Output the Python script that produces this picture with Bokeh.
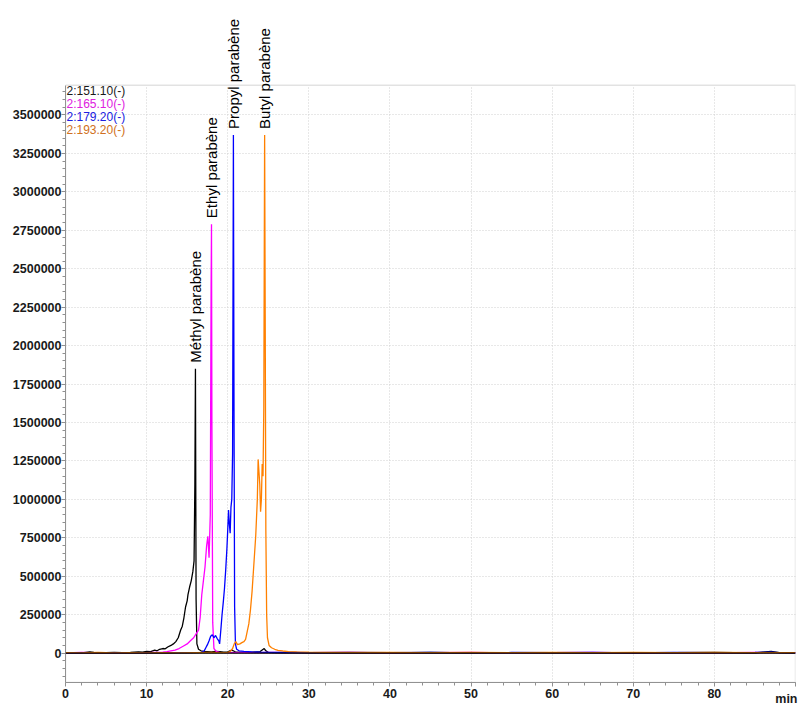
from bokeh.plotting import figure
from bokeh.models import (Range1d, SingleIntervalTicker, BasicTickFormatter, Label, Span,
                          BoxAnnotation)
from bokeh.embed import file_html
from bokeh.resources import INLINE

# ---------------- data (time in min, intensity in counts) ----------------
ion_labels = ["2:151.10(-)", "2:165.10(-)", "2:179.20(-)", "2:193.20(-)"]

t_151 = [0, 1, 2, 3, 3.5, 4, 5, 6, 7, 8, 9, 9.5, 10, 10.5, 11, 11.3, 11.6, 12, 12.3, 12.6,
         13, 13.3, 13.6, 13.9, 14.2, 14.4, 14.6, 14.8, 15.0, 15.1, 15.3, 15.5, 15.7, 15.85,
         15.95, 16.02, 16.1, 16.2, 16.4, 16.7, 17, 17.5, 18, 18.5, 19, 19.5, 20, 20.5, 20.8,
         21, 22, 23, 24, 24.5, 24.7, 25, 26, 28, 30, 35, 40, 45, 50, 55, 60, 65, 70, 75, 80,
         85, 87, 88, 90]
y_151 = [2000, 3000, 1000, 8000, 4000, 2000, 3000, 5000, 3000, 4000, 8000, 6000, 12000, 10000,
         20000, 15000, 25000, 30000, 28000, 40000, 50000, 60000, 75000, 100000, 150000, 175000,
         230000, 300000, 340000, 380000, 430000, 470000, 530000, 600000, 1100000, 1850000,
         350000, 60000, 25000, 15000, 12000, 10000, 8000, 12000, 10000, 6000, 8000, 20000,
         12000, 6000, 5000, 6000, 10000, 30000, 15000, 5000, 3000, 4000, 2000, 3000, 2000,
         4000, 2000, 3000, 2000, 3000, 2000, 3000, 4000, 2000, 12000, 3000, 2000]

t_165 = [0, 2, 4, 6, 8, 10, 11, 12, 12.5, 13, 13.5, 14, 14.5, 15, 15.4, 15.8, 16.1, 16.4,
         16.6, 16.8, 17.0, 17.2, 17.4, 17.55, 17.7, 17.85, 17.95, 18.0, 18.05, 18.15, 18.3,
         18.6, 19, 20, 22, 24, 25, 30, 35, 40, 45, 50, 55, 60, 65, 70, 75, 80, 85, 90]
y_165 = [2000, 4000, 2000, 3000, 2000, 3000, 5000, 6000, 10000, 15000, 20000, 30000, 45000,
         60000, 80000, 100000, 125000, 150000, 230000, 380000, 470000, 560000, 700000, 760000,
         620000, 900000, 2400000, 2790000, 1500000, 200000, 30000, 10000, 5000, 3000, 4000,
         3000, 5000, 3000, 4000, 2000, 3000, 4000, 2000, 3000, 4000, 2000, 3000, 2000, 4000,
         3000]

t_179 = [0, 3, 6, 9, 12, 15, 16, 16.8, 17.1, 17.3, 17.5, 17.7, 17.9, 18.1, 18.3, 18.5, 18.7,
         18.9, 19.0, 19.15, 19.3, 19.45, 19.6, 19.75, 19.9, 20.0, 20.1, 20.2, 20.3, 20.4, 20.5,
         20.6, 20.7, 20.78, 20.85, 20.95, 21.1, 21.4, 22, 23, 24, 25, 27, 30, 35, 40, 45, 50,
         55, 60, 65, 70, 75, 80, 85, 87, 88, 90]
y_179 = [1000, 2000, 1000, 2000, 1000, 2000, 3000, 5000, 15000, 35000, 55000, 80000, 110000,
         120000, 100000, 115000, 95000, 80000, 60000, 150000, 250000, 330000, 420000, 540000,
         680000, 800000, 930000, 840000, 780000, 950000, 1000000, 1300000, 3370000, 1500000,
         300000, 60000, 25000, 15000, 12000, 8000, 6000, 5000, 4000, 3000, 5000, 3000, 4000,
         2000, 4000, 3000, 4000, 2000, 4000, 3000, 4000, 6000, 3000, 2000]

t_193 = [0, 2, 4, 6, 8, 10, 12, 14, 16, 18, 19, 20, 20.3, 20.6, 20.8, 21.0, 21.2, 21.5, 21.8,
         22.0, 22.2, 22.4, 22.6, 22.8, 23.0, 23.15, 23.3, 23.45, 23.55, 23.65, 23.75, 23.85,
         23.95, 24.05, 24.15, 24.25, 24.35, 24.45, 24.55, 24.62, 24.7, 24.8, 24.9, 25.1, 25.4,
         25.8, 26.2, 26.8, 27.5, 28.5, 30, 32, 35, 40, 45, 50, 55, 60, 65, 70, 75, 80, 85, 90]
y_193 = [3000, 2000, 4000, 2000, 3000, 2000, 3000, 2000, 3000, 4000, 3000, 5000, 10000, 30000,
         60000, 75000, 55000, 60000, 70000, 75000, 90000, 140000, 190000, 280000, 400000,
         520000, 640000, 760000, 880000, 1000000, 1260000, 1180000, 1100000, 920000, 1000000,
         1230000, 1150000, 1600000, 3370000, 2200000, 800000, 250000, 100000, 50000, 35000,
         25000, 18000, 14000, 10000, 8000, 6000, 5000, 4000, 5000, 3000, 4000, 3000, 4000,
         3000, 4000, 3000, 4000, 3000, 3000]

peak_names = ["Méthyl parabène", "Ethyl parabène", "Propyl parabène", "Butyl parabène"]
peak_times = [16.02, 18.0, 20.7, 24.55]
peak_heights = [1850000, 2790000, 3370000, 3370000]

x_ticks_step = 10
y_ticks_step = 250000

# axis extents (visible plot box)
X0, X1 = 0, 90
Y0, Y1 = -191000, 3693000

# ---------------- figure ----------------
FONT = "Liberation Sans"
W, H = 798, 704
LEFT, RIGHT, TOP_BOX, BOTTOM = 65, 3, 83, 22
PANEL_TOP = 12   # height taken by the "min" label placed in the top side panel
# the drawing frame extends up above the visible box so the peak names are not clipped;
# the visible plot box (outline, axis line, grids) stops at Y1.
box_h = H - BOTTOM - TOP_BOX
y_top = Y1 + (Y1 - Y0) * (TOP_BOX - PANEL_TOP) / box_h

p = figure(width=W, height=H, output_backend="svg", toolbar_location=None,
           x_range=Range1d(X0, X1), y_range=Range1d(Y0, y_top),
           min_border_left=LEFT, min_border_right=RIGHT, min_border_top=0,
           min_border_bottom=BOTTOM)
p.background_fill_color = "white"
p.border_fill_color = "white"
p.outline_line_color = None

p.xaxis.ticker = SingleIntervalTicker(interval=x_ticks_step, num_minor_ticks=5)
p.yaxis.ticker = SingleIntervalTicker(interval=y_ticks_step, num_minor_ticks=5)
p.yaxis.formatter = BasicTickFormatter(use_scientific=False)
p.yaxis.bounds = (Y0, Y1)
p.xaxis.major_label_overrides = {90: ""}

for ax in (p.xaxis, p.yaxis):
    ax.axis_line_color = "#909090"
    ax.major_tick_line_color = "#909090"
    ax.minor_tick_line_color = "#909090"
    ax.major_tick_in = 0
    ax.minor_tick_in = 0
    ax.major_tick_out = 4
    ax.minor_tick_out = 3
    ax.major_label_text_font = FONT
    ax.major_label_text_font_size = "12.5px"
    ax.major_label_text_font_style = "bold"
    ax.major_label_text_color = "#1a1a1a"
p.yaxis.major_label_standoff = 0
p.xaxis.major_label_standoff = 2

for g in (p.xgrid, p.ygrid):
    g.grid_line_color = "#d0d0d0"
    g.grid_line_dash = "1 2"
    g.grid_line_width = 1
p.ygrid.bounds = (Y0, Y1)
p.xgrid.cross_bounds = (Y0, Y1)

p.add_layout(BoxAnnotation(left=X0, right=X1, bottom=Y0, top=Y1, fill_alpha=0,
                           line_color="#a0a0a0", line_width=1.5))
p.add_layout(Span(location=0, dimension="width", line_color="#000000", line_width=1.2))

series = [(t_151, y_151, "#000000"), (t_165, y_165, "#ff00ff"),
          (t_179, y_179, "#0000ff"), (t_193, y_193, "#ff8000")]
for tx, ty, c in series:
    p.line(tx, ty, line_color=c, line_width=1.3)

# peak labels
for name, tx, hy in zip(peak_names, peak_times, peak_heights):
    p.add_layout(Label(x=tx, y=hy, text=name, angle=90, angle_units="deg",
                       y_offset=6, text_align="left", text_baseline="middle",
                       text_font=FONT, text_font_size="15px", text_color="#000000"))

# ion legend
ion_colors = ["#1a1a1a", "#e020e0", "#2020e0", "#d07020"]
for i, (lab, col) in enumerate(zip(ion_labels, ion_colors)):
    p.add_layout(Label(x=X0, y=Y1, x_offset=1, y_offset=-6 - 13 * i, text=lab,
                       text_align="left", text_baseline="middle", text_font=FONT,
                       text_font_size="12px", text_color=col))

# axis unit, drawn in a side panel so that it is not clipped by the frame
p.add_layout(Label(x=X1, y=Y0, x_offset=2, y_offset=-16, text="min",
                   text_align="right", text_baseline="middle", text_font=FONT,
                   text_font_size="12.5px", text_font_style="bold", text_color="#1a1a1a"),
             "above")

open("out.html", "w").write(file_html(p, INLINE))
